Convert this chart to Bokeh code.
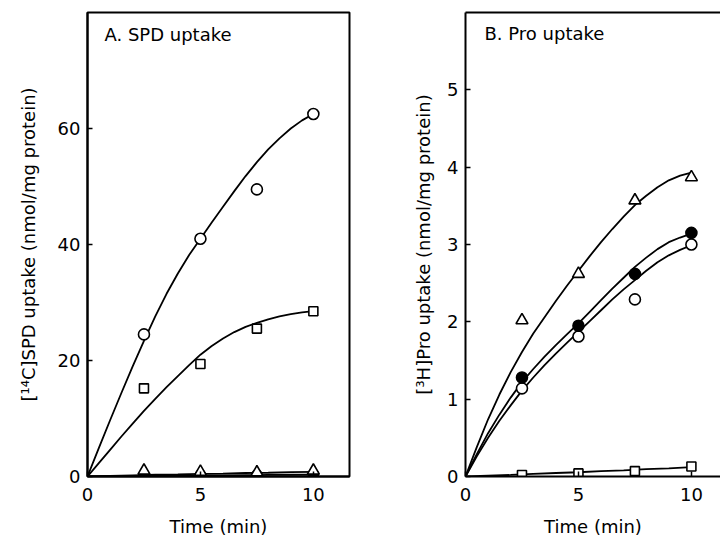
from bokeh.plotting import figure
from bokeh.layouts import row
from bokeh.models import Label, LinearAxis, FixedTicker, Range1d
from bokeh.embed import file_html
from bokeh.resources import INLINE

FONT = "DejaVu Sans"

# ---- data ----
time_pts = [2.5, 5, 7.5, 10]
fit_t = [0, 0.5, 1, 1.5, 2, 2.5, 3, 3.5, 4, 4.5, 5,
         5.5, 6, 6.5, 7, 7.5, 8, 8.5, 9, 9.5, 10]
low_t = [0, 1, 2, 3, 4, 5, 6, 7, 8, 9, 10]

# Panel A: [14C]SPD uptake
spd_open_circle = [24.5, 41.0, 49.5, 62.5]
spd_open_square = [15.2, 19.4, 25.5, 28.5]
spd_triangle = [1.0, 0.8, 0.7, 1.0]
spd_filled_circle = [0.2, 0.3, 0.3, 0.4]

spd_fit_circle = [0, 4.9, 9.7, 14.4, 19.0, 23.4, 27.6, 31.5, 35.0, 38.2, 41.0,
                  43.8, 46.5, 49.2, 51.8, 54.2, 56.4, 58.3, 60.0, 61.4, 62.5]
spd_fit_square = [0, 2.3, 4.6, 6.9, 9.1, 11.3, 13.4, 15.4, 17.3, 19.2, 21.0,
                  22.5, 23.8, 24.9, 25.8, 26.5, 27.1, 27.6, 28.0, 28.3, 28.5]
spd_fit_triangle = [0, 0.1, 0.2, 0.3, 0.35, 0.45, 0.5, 0.6, 0.65, 0.75, 0.8]
spd_fit_filled = [0, 0.04, 0.08, 0.12, 0.15, 0.18, 0.21, 0.24, 0.27, 0.3, 0.32]

# Panel B: [3H]Pro uptake
pro_triangle = [2.02, 2.62, 3.57, 3.87]
pro_filled_circle = [1.28, 1.95, 2.62, 3.15]
pro_open_circle = [1.14, 1.81, 2.29, 3.0]
pro_open_square = [0.02, 0.04, 0.07, 0.13]

pro_fit_triangle = [0, 0.38, 0.74, 1.06, 1.35, 1.61, 1.85, 2.06, 2.27, 2.47, 2.66,
                    2.85, 3.03, 3.2, 3.36, 3.51, 3.63, 3.74, 3.83, 3.89, 3.93]
pro_fit_filled = [0, 0.29, 0.56, 0.8, 1.02, 1.22, 1.39, 1.55, 1.70, 1.84, 1.98,
                  2.13, 2.28, 2.43, 2.57, 2.71, 2.83, 2.94, 3.03, 3.09, 3.14]
pro_fit_open = [0, 0.26, 0.5, 0.72, 0.92, 1.11, 1.28, 1.44, 1.59, 1.73, 1.87,
                2.01, 2.15, 2.29, 2.42, 2.54, 2.66, 2.77, 2.86, 2.93, 2.99]
pro_fit_square = [0, 0.01, 0.02, 0.035, 0.045, 0.055, 0.07, 0.08, 0.095, 0.105, 0.12]

x_ticks = [0, 5, 10]
spd_ticks = [0, 20, 40, 60]
pro_ticks = [0, 1, 2, 3, 4, 5]


def style(p, yticks, label_standoff):
    p.xaxis.ticker = FixedTicker(ticks=x_ticks)
    p.yaxis.ticker = FixedTicker(ticks=yticks)
    for ax in p.xaxis + p.yaxis:
        ax.axis_line_width = 2
        ax.axis_line_color = "black"
        ax.major_tick_in = 5
        ax.major_tick_out = 0
        ax.major_tick_line_width = 1.5
        ax.minor_tick_line_color = None
        ax.major_label_text_font = FONT
        ax.major_label_text_font_size = "18px"
        ax.major_label_text_color = "black"
        ax.axis_label_text_font = FONT
        ax.axis_label_text_font_size = "18px"
        ax.axis_label_text_font_style = "normal"
        ax.axis_label_text_color = "black"
        ax.major_label_standoff = 7
    p.xaxis.axis_label = "Time (min)"
    p.xaxis.major_label_standoff = 11
    p.xaxis.axis_label_standoff = 12
    p.yaxis.axis_label_standoff = label_standoff
    p.grid.visible = False
    p.background_fill_color = "white"
    p.border_fill_color = "white"


def draw(p, xs, ys, marker, size, filled):
    p.scatter(xs, ys, marker=marker, size=size, line_color="black", line_width=1.6,
              fill_color="black" if filled else "white")


# ---------------- Panel A ----------------
pa = figure(width=405, height=540, x_range=Range1d(0, 11.6), y_range=Range1d(0, 80),
            min_border_left=87, min_border_right=56, min_border_top=11, min_border_bottom=64,
            output_backend="svg", toolbar_location=None,
            outline_line_color="black", outline_line_width=2)
style(pa, spd_ticks, 16)
pa.yaxis.axis_label = "[¹⁴C]SPD uptake (nmol/mg protein)"

for ys in (spd_fit_circle, spd_fit_square):
    pa.line(fit_t, ys, line_color="black", line_width=1.8)
for ys in (spd_fit_triangle, spd_fit_filled):
    pa.line(low_t, ys, line_color="black", line_width=1.8)
draw(pa, time_pts, spd_filled_circle, "circle", 10, True)
draw(pa, time_pts, spd_triangle, "triangle", 12, False)
draw(pa, time_pts, spd_open_square, "square", 9, False)
draw(pa, time_pts, spd_open_circle, "circle", 11, False)

pa.add_layout(Label(x=0.75, y=78.0, text="A. SPD uptake", text_font=FONT,
                    text_font_size="18px", text_color="black", text_baseline="top"))

# ---------------- Panel B ----------------
pb = figure(width=315, height=540, x_range=Range1d(0, 255 / 22.59), y_range=Range1d(0, 6),
            min_border_left=60, min_border_right=0, min_border_top=12, min_border_bottom=63,
            output_backend="svg", toolbar_location=None, outline_line_color=None)
style(pb, pro_ticks, 10)
pb.yaxis.axis_label = "[³H]Pro uptake (nmol/mg protein)"
top_axis = LinearAxis(ticker=FixedTicker(ticks=[]), axis_line_width=2, axis_line_color="black",
                      major_tick_line_color=None, minor_tick_line_color=None,
                      major_label_text_font_size="0px")
pb.add_layout(top_axis, "above")

for ys in (pro_fit_triangle, pro_fit_filled, pro_fit_open):
    pb.line(fit_t, ys, line_color="black", line_width=1.8)
pb.line(low_t, pro_fit_square, line_color="black", line_width=1.8)
draw(pb, time_pts, pro_triangle, "triangle", 12, False)
draw(pb, time_pts, pro_open_circle, "circle", 11, False)
draw(pb, time_pts, pro_filled_circle, "circle", 11, True)
draw(pb, time_pts, pro_open_square, "square", 9, False)

pb.add_layout(Label(x=0.84, y=5.86, text="B. Pro uptake", text_font=FONT,
                    text_font_size="18px", text_color="black", text_baseline="top"))

layout = row(pa, pb)
open("out.html", "w").write(file_html(layout, INLINE))
